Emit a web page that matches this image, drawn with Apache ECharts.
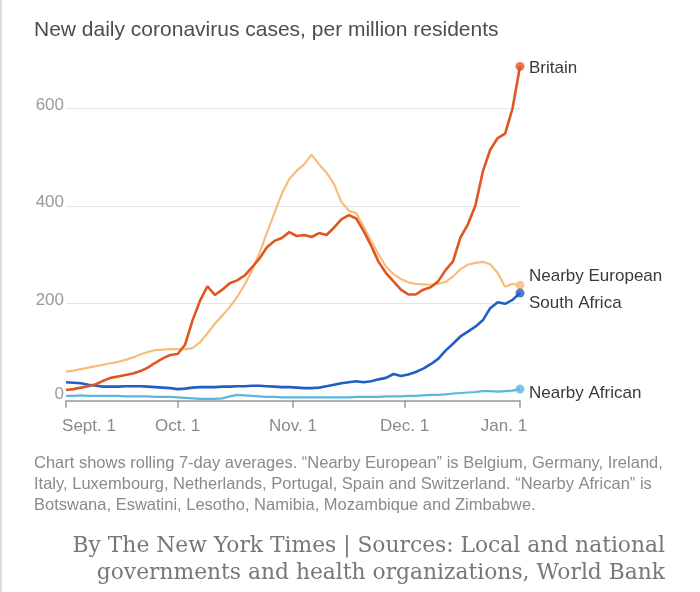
<!DOCTYPE html>
<html><head><meta charset="utf-8">
<script src="https://cdn.jsdelivr.net/npm/echarts@6/dist/echarts.min.js"></script>
<style>html,body{margin:0;padding:0;background:#fff}#c{width:700px;height:592px}</style>
</head><body><div id="c"></div><script>
// Days since Sept. 1, 2020
const dayOffsets = [0,2,4,6,8,10,12,14,16,18,20,22,24,26,28,30,32,34,36,38,40,42,44,46,48,50,52,54,56,58,60,62,64,66,68,70,72,74,76,78,80,82,84,86,88,90,92,94,96,98,100,102,104,106,108,110,112,114,116,118,120,122];
const britain = [22,24,27,30,34,41,47,50,53,56,61,68,78,87,94,96,115,165,205,235,217,228,241,247,257,274,292,315,328,334,346,338,340,336,344,340,355,372,381,374,348,318,285,262,245,228,218,218,228,233,245,268,286,335,362,400,470,515,539,548,600,686];
const nearbyEuropean = [60,62,65,68,71,74,77,80,84,89,95,100,104,105,106,106,106,108,120,138,158,175,192,213,238,268,303,345,385,425,455,472,485,505,485,468,445,408,390,385,357,328,300,275,260,250,243,240,239,238,240,244,255,270,279,283,285,280,262,234,240,237];
const southAfrica = [38,37,36,33,31,29,29,29,30,30,30,29,28,27,26,24,25,27,28,28,28,29,29,30,30,31,31,30,29,28,28,27,26,26,27,30,33,36,38,40,38,40,44,47,55,51,54,59,66,75,86,103,117,132,142,152,165,190,202,199,207,221];
const nearbyAfrican = [10,10,11,10,10,10,10,10,9,9,9,9,8,8,8,7,6,5,4,4,4,5,9,12,11,10,9,8,8,7,7,7,7,7,7,7,7,7,7,8,8,8,8,9,9,9,10,10,11,12,12,13,15,16,17,18,20,20,19,20,21,24];
const seriesNames = ['Nearby African','Nearby European','South Africa','Britain'];
const tickMonths = [8,9,10,11,0];
const tickLabels = ['Sept. 1','Oct. 1','Nov. 1','Dec. 1','Jan. 1'];
const yTicks = [0,200,400,600];

const toTime = d => new Date(2020, 8, 1 + d).getTime();
const pairs = arr => arr.map((v, i) => [toTime(dayOffsets[i]), v]);
const colors = {'Britain':'#e0561f','Nearby European':'#f6bd7c','South Africa':'#1f5fc6','Nearby African':'#5bb6e0'};
const widths = {'Britain':2.6,'Nearby European':2.2,'South Africa':2.6,'Nearby African':2.2};
const values = {'Britain':britain,'Nearby European':nearbyEuropean,'South Africa':southAfrica,'Nearby African':nearbyAfrican};
const labelOffset = {'Britain':[0,2],'Nearby European':[0,-9],'South Africa':[0,10],'Nearby African':[0,4]};
const FONT = "'Liberation Sans', Arial, sans-serif";
const SERIF = "'DejaVu Serif', 'Liberation Serif', serif";

const series = [];
seriesNames.forEach(name => {
  series.push({
    name, type:'line', data: pairs(values[name]), showSymbol:false, symbol:'none', clip:false,
    lineStyle:{color:colors[name], width:widths[name]}, smooth:false,
    endLabel:{show:true, formatter:name, color:'#3a3a3a', fontSize:17, fontFamily:FONT, distance:9, offset:labelOffset[name]},
    z: 2
  });
});
seriesNames.forEach(name => {
  const arr = values[name];
  series.push({
    type:'scatter', data:[[toTime(dayOffsets[dayOffsets.length-1]), arr[arr.length-1]]],
    symbolSize:9, itemStyle:{color:colors[name]}, clip:false, z:3, silent:true
  });
});

const chart = echarts.init(document.getElementById('c'), null, {renderer:'canvas'});
chart.setOption({
  animation:false,
  backgroundColor:'#fff',
  grid:{left:66, right:180, top:108.3, bottom:191.2, containLabel:false},
  xAxis:{
    type:'time', min:toTime(0), max:toTime(122), splitNumber:4,
    axisLine:{show:true, lineStyle:{color:'#9a9a9a', width:1.5}},
    axisTick:{show:true, length:7, lineStyle:{color:'#9a9a9a', width:1.5}},
    splitLine:{show:false},
    axisLabel:{
      color:'#8a8a8a', fontSize:17, fontFamily:FONT, margin:17,
      showMinLabel:true, showMaxLabel:true,
      formatter: v => {
        const d = new Date(v); const i = tickMonths.indexOf(d.getMonth());
        if (i < 0 || d.getDate() !== 1) return '';
        if (i === 0) return '{l|' + tickLabels[i] + '}';
        if (i === tickLabels.length - 1) return '{r|' + tickLabels[i] + '}';
        return tickLabels[i];
      },
      rich:{
        l:{color:'#8a8a8a', fontSize:17, fontFamily:FONT, padding:[0,0,0,46]},
        r:{color:'#8a8a8a', fontSize:17, fontFamily:FONT, padding:[0,32,0,0]}
      }
    }
  },
  yAxis:{
    type:'value', min:0, max:600, interval:200,
    axisLine:{show:false}, axisTick:{show:false},
    splitLine:{show:true, lineStyle:{color:'#e4e4e4', width:1.2}},
    axisLabel:{
      color:'#999', fontSize:17, fontFamily:FONT, margin:2, verticalAlign:'middle', padding:[0,0,6,0],
      formatter: v => yTicks.indexOf(v) === 0 ? '{z|' + v + '}' : String(v),
      rich:{z:{color:'#999', fontSize:17, fontFamily:FONT, padding:[0,0,6,0]}}
    }
  },
  series,
  graphic:[
    {type:'rect', shape:{x:0,y:0,width:2,height:592}, style:{fill:'#dcdcdc'}},
    {type:'text', left:34, top:20, style:{text:'New daily coronavirus cases, per million residents', fill:'#4d4d4d', font:"21px " + FONT}},
    {type:'text', left:34, top:453, style:{text:'Chart shows rolling 7-day averages. \u201cNearby European\u201d is Belgium, Germany, Ireland,\nItaly, Luxembourg, Netherlands, Portugal, Spain and Switzerland. \u201cNearby African\u201d is\nBotswana, Eswatini, Lesotho, Namibia, Mozambique and Zimbabwe.', fill:'#8a8a8a', font:"16.5px " + FONT, lineHeight:21}},
    {type:'text', style:{x:665, y:546, text:'By The New York Times | Sources: Local and national', fill:'#777', font:"21.8px " + SERIF, align:'right', verticalAlign:'middle'}},
    {type:'text', style:{x:665, y:573, text:'governments and health organizations, World Bank', fill:'#777', font:"21.8px " + SERIF, align:'right', verticalAlign:'middle'}}
  ]
});
</script></body></html>
